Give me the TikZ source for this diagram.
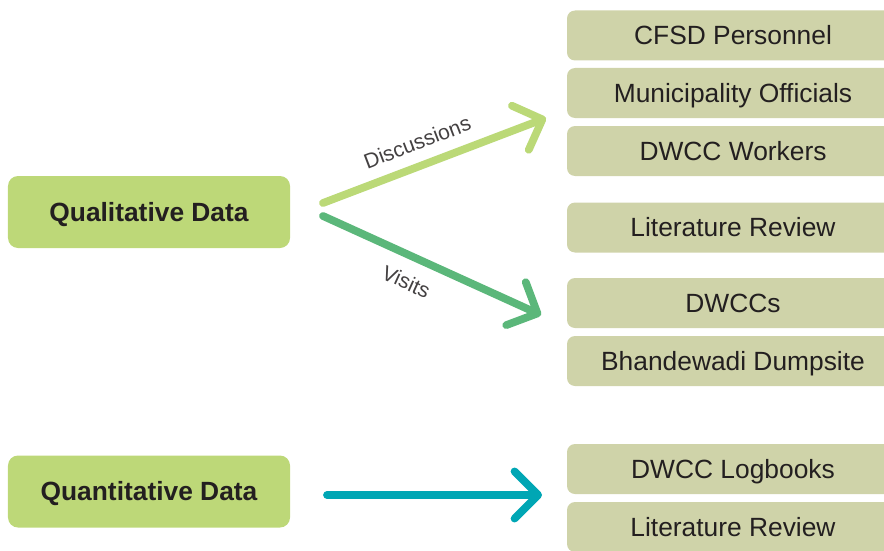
\documentclass[tikz,border=0pt]{standalone}
\usepackage{fontspec}
\setmainfont{Liberation Sans}
\usetikzlibrary{arrows.meta}

\definecolor{srcgreen}{HTML}{BDD878}
\definecolor{itemfill}{HTML}{CFD3A9}
\definecolor{talkgreen}{HTML}{BBD977}
\definecolor{visitgreen}{HTML}{5BB77A}
\definecolor{numteal}{HTML}{00A6B4}
\definecolor{inktext}{HTML}{231F20}

\begin{document}
\begin{tikzpicture}[
  srcbox/.style={fill=srcgreen,rounded corners=0.2cm,minimum width=5.64cm,minimum height=1.44cm,inner sep=0pt,text height=10.8pt,text depth=0pt,font=\fontsize{15}{18}\selectfont\bfseries,text=inktext},
  itembox/.style={fill=itemfill,rounded corners=0.16cm,minimum width=6.64cm,minimum height=1.0cm,inner sep=0pt,text height=10.8pt,text depth=0pt,font=\fontsize{15}{18}\selectfont,text=inktext},
  flow/.style={line width=4.4pt,line cap=round,-{Straight Barb[angle=90:19pt,round]}},
  flowlabel/.style={font=\fontsize{12}{14}\selectfont,text=inktext!85,sloped,inner sep=1pt}
]
\useasboundingbox (0,0) rectangle (17.68,-11);

\node[srcbox] (qual) at (2.98,-4.24) {Qualitative Data};
\node[srcbox] (quant) at (2.98,-9.83) {Quantitative Data};

\node[itembox] (cfsd) at (14.66,-0.71) {CFSD Personnel};
\node[itembox] (muni) at (14.66,-1.86) {Municipality Officials};
\node[itembox] (work) at (14.66,-3.02) {DWCC Workers};
\node[itembox] (lit1) at (14.66,-4.55) {Literature Review};
\node[itembox] (dwcc) at (14.66,-6.06) {DWCCs};
\node[itembox] (dump) at (14.66,-7.22) {Bhandewadi Dumpsite};
\node[itembox] (logs) at (14.66,-9.38) {DWCC Logbooks};
\node[itembox] (lit2) at (14.66,-10.54) {Literature Review};

\coordinate (talkstart) at (6.46,-4.06);
\coordinate (talkend) at (10.92,-2.36);
\coordinate (visitstart) at (6.46,-4.32);
\coordinate (visitend) at (10.82,-6.30);
\coordinate (numstart) at (6.54,-9.90);
\coordinate (numend) at (10.84,-9.90);

\draw[flow,talkgreen] (talkstart) -- (talkend) node[flowlabel,pos=0.46,above=0.2cm] {Discussions};
\draw[flow,visitgreen] (visitstart) -- (visitend) node[flowlabel,pos=0.43,below=0.24cm] {Visits};
\draw[flow,numteal] (numstart) -- (numend);
\end{tikzpicture}
\end{document}
